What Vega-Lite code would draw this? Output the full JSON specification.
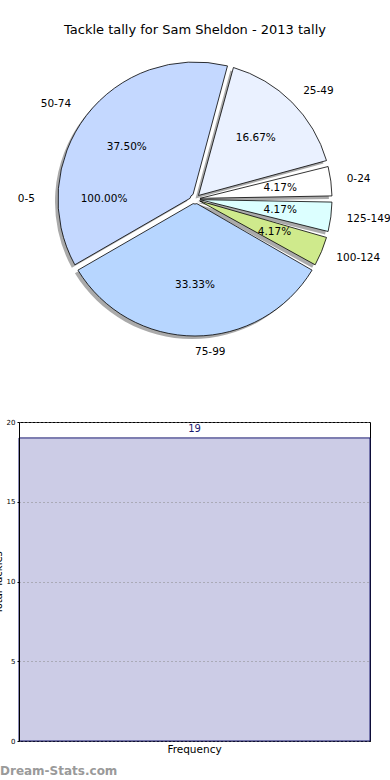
{
  "$schema": "https://vega.github.io/schema/vega-lite/v6.json",
  "background": "white",
  "padding": {"left": -8, "top": 24, "right": 0, "bottom": 0},
  "spacing": 56,
  "config": {"font": "DejaVu Sans", "view": {"stroke": null}},
  "datasets": {
    "slices": [
      {"label": "0-24", "count": 1, "pct": "4.17%", "rank": 1},
      {"label": "25-49", "count": 4, "pct": "16.67%", "rank": 2},
      {"label": "50-74", "count": 9, "pct": "37.50%", "rank": 3},
      {"label": "0-5", "count": 0, "pct": "100.00%", "rank": 4},
      {"label": "75-99", "count": 8, "pct": "33.33%", "rank": 5},
      {"label": "100-124", "count": 1, "pct": "4.17%", "rank": 6},
      {"label": "125-149", "count": 1, "pct": "4.17%", "rank": 7}
    ],
    "bars": [{"stat": "Frequency", "value": 19}]
  },
  "vconcat": [
    {
      "width": 352,
      "height": 320,
      "title": {"text": "Tackle tally for Sam Sheldon - 2013 tally", "fontSize": 13, "fontWeight": "normal", "color": "black", "offset": 2},
      "data": {"name": "slices"},
      "layer": [
        {
          "transform": [{"filter": "datum.count > 0"}],
          "mark": {"type": "arc", "outerRadius": 137, "innerRadius": 5, "padAngle": 0.045, "fill": "#555555", "opacity": 0.5, "xOffset": -3, "yOffset": 3},
          "encoding": {
            "theta": {"field": "count", "type": "quantitative", "stack": true, "scale": {"range": [1.5708, -4.7124]}},
            "order": {"field": "rank", "type": "quantitative"}
          }
        },
        {
          "transform": [{"filter": "datum.count > 0"}],
          "mark": {"type": "arc", "outerRadius": 137, "innerRadius": 5, "padAngle": 0.045, "stroke": "black", "strokeWidth": 0.8},
          "encoding": {
            "theta": {"field": "count", "type": "quantitative", "stack": true},
            "order": {"field": "rank", "type": "quantitative"},
            "color": {
              "field": "label", "type": "nominal", "legend": null,
              "scale": {
                "domain": ["0-24", "25-49", "50-74", "75-99", "100-124", "125-149"],
                "range": ["#ffffff", "#eaf1ff", "#c4d8ff", "#b7d6ff", "#cfea8c", "#dcffff"]
              }
            }
          }
        },
        {
          "mark": {"type": "text", "radius": 86, "fontSize": 10.5, "color": "black"},
          "encoding": {
            "theta": {"field": "count", "type": "quantitative", "stack": true},
            "order": {"field": "rank", "type": "quantitative"},
            "text": {"condition": {"test": "datum.label !== '0-5'", "field": "pct"}, "value": ""}
          }
        },
        {
          "mark": {"type": "text", "radius": 153, "fontSize": 10.5, "color": "black", "align": "left", "baseline": "middle"},
          "encoding": {
            "theta": {"field": "count", "type": "quantitative", "stack": true},
            "order": {"field": "rank", "type": "quantitative"},
            "text": {"condition": {"test": "datum.label !== '0-5' && datum.label !== '50-74'", "field": "label"}, "value": ""}
          }
        },
        {
          "mark": {"type": "text", "radius": 156, "fontSize": 10.5, "color": "black", "align": "right", "baseline": "middle"},
          "encoding": {
            "theta": {"field": "count", "type": "quantitative", "stack": true},
            "order": {"field": "rank", "type": "quantitative"},
            "text": {"condition": {"test": "datum.label === '50-74'", "field": "label"}, "value": ""}
          }
        },
        {
          "transform": [{"filter": "datum.label === '0-5'"}],
          "mark": {"type": "text", "radius": 160, "fontSize": 10.5, "color": "black", "align": "right", "baseline": "middle"},
          "encoding": {
            "theta": {"datum": 12},
            "text": {"field": "label"}
          }
        },
        {
          "transform": [{"filter": "datum.label === '0-5'"}],
          "mark": {"type": "text", "radius": 91, "fontSize": 10.5, "color": "black"},
          "encoding": {
            "theta": {"datum": 12},
            "text": {"field": "pct"}
          }
        }
      ]
    },
    {
      "width": 351,
      "height": 319,
      "data": {"name": "bars"},
      "view": {"stroke": "black", "strokeWidth": 1},
      "title": {"text": "Dream-Stats.com", "orient": "bottom", "anchor": "start", "frame": "group", "dx": -19, "offset": 11, "fontSize": 12, "fontWeight": "bold", "color": "#9a9a9a"},
      "encoding": {
        "x": {
          "field": "stat", "type": "nominal",
          "scale": {"paddingInner": 0, "paddingOuter": 0},
          "axis": {"title": null, "labelAngle": 0, "ticks": false, "labelFontSize": 10.5, "labelColor": "black", "domainColor": "black", "labelPadding": 3}
        },
        "y": {
          "field": "value", "type": "quantitative",
          "scale": {"domain": [0, 20]},
          "axis": {
            "values": [0, 5, 10, 15, 20], "title": "Total Tackles", "titleFontSize": 10, "titleFontWeight": "normal", "titleColor": "black",
            "titleX": -16, "titleY": 160, "titleAngle": 270, "titleBaseline": "bottom",
            "grid": true, "gridDash": [1, 3], "gridColor": "#888888", "gridOpacity": 1, "zindex": 1,
            "labelFontSize": 7, "labelColor": "black", "labelPadding": 2, "tickSize": 2, "tickColor": "black", "domainColor": "black"
          }
        }
      },
      "layer": [
        {"mark": {"type": "bar", "fill": "#ccccE6", "stroke": "#1a1a70", "strokeWidth": 1}},
        {"mark": {"type": "text", "dy": -9, "fontSize": 10, "color": "#1a1a70"}, "encoding": {"text": {"field": "value", "type": "quantitative"}}}
      ]
    }
  ]
}
